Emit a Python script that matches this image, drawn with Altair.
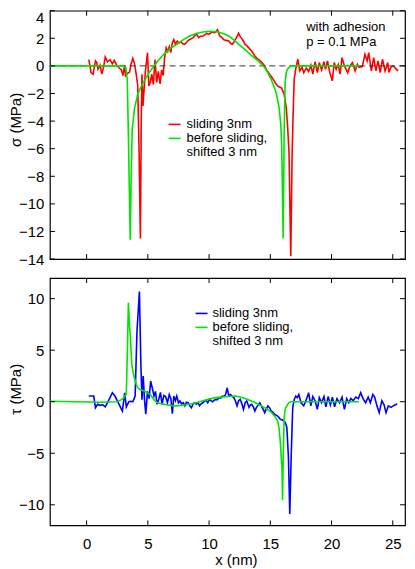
import altair as alt
import pandas as pd

FONT = "Liberation Sans"
RED = "#ff0000"
GREEN = "#00e400"
BLUE = "#0000ff"

# ---------------- data ----------------
red_x = [0.18, 0.37, 0.53, 0.72, 0.82, 0.93, 1.10, 1.24, 1.38, 1.52, 1.70, 1.91, 2.10, 2.26, 2.46, 2.66,
         2.84, 2.97, 3.10, 3.18, 3.32, 3.51, 3.62, 3.77, 3.90, 4.05, 4.17, 4.28, 4.39, 4.46, 4.52, 4.60,
         4.70, 4.80, 4.97, 5.08, 5.20, 5.32, 5.45, 5.58, 5.72, 5.85, 6.00, 6.12, 6.25, 6.37, 6.50, 6.62,
         6.75, 6.87, 7.00, 7.12, 7.25, 7.40, 7.55, 7.70, 7.85, 8.00, 8.15, 8.30, 8.50, 8.70, 8.85, 9.00,
         9.15, 9.30, 9.50, 9.65, 9.80, 10.00, 10.15, 10.30, 10.45, 10.69, 10.87, 11.05, 11.21, 11.40,
         11.61, 11.75, 11.88, 12.05, 12.20, 12.41, 12.55, 12.68, 12.82, 12.94, 13.10, 13.30, 13.48, 13.60,
         13.74, 13.90, 14.05, 14.20, 14.35, 14.54, 14.70, 14.94, 15.10, 15.30, 15.45, 15.60, 15.78, 15.92,
         16.13, 16.30, 16.42, 16.53, 16.67, 16.78, 16.85, 16.95, 17.07, 17.25, 17.41, 17.59, 17.73,
         17.94, 18.13, 18.31, 18.47, 18.66, 18.84, 19.00, 19.19, 19.38, 19.51, 19.67, 19.86, 20.06, 20.22,
         20.38, 20.55, 20.70, 20.86, 21.05, 21.18, 21.32, 21.50, 21.71, 21.93, 22.11, 22.25, 22.51, 22.73,
         22.91, 23.04, 23.25, 23.44, 23.63, 23.79, 23.97, 24.16, 24.37, 24.59, 24.69, 24.85, 25.04, 25.30,
         25.44]
red_sigma = [0.45, -0.5, -0.6, 0.36, 0.25, -0.24, 0.05, -0.6, -0.1, 0.65, 0.3, 0.45, 0.15, 0.4, 0.05, -0.15,
             -0.3, -0.7, 0.05, -0.7, -0.55, -0.45, 0.1, 0.55, 0.2, -0.6, -1.4, -6.0, -12.5, -4.0, -0.6, -2.9,
             -1.6, -0.4, 0.95, -1.45, -1.2, -0.6, -1.35, 0.45, -1.2, -0.4, -1.3, -0.3, -0.7, 0.6, 1.3, 1.05,
             1.4, 0.96, 1.68, 1.9, 1.55, 1.8, 1.65, 1.75, 1.6, 1.56, 1.7, 1.85, 1.95, 2.05, 2.2, 2.28,
             2.05, 2.15, 2.17, 2.25, 2.35, 2.28, 2.4, 2.45, 2.4, 2.62, 2.17, 2.05, 1.9, 1.85,
             1.8, 1.65, 1.56, 1.75, 2.0, 2.36, 2.1, 1.97, 1.75, 1.56, 1.45, 1.25, 1.08, 0.9,
             0.72, 0.55, 0.45, 0.35, 0.2, 0.0, -0.3, -0.6, -0.8, -1.05, -1.3, -1.45, -1.55, -1.6,
             -2.05, -3.0, -4.5, -6.3, -13.8, -6.5, -3.86, -1.0, -0.24, 0.48, -0.36, -0.1, -0.5,
             -0.15, -0.4, 0.05, -0.6, 0.3, -0.48, 0.24, -0.3, 0.3, -0.25, 0.36, -0.48, -1.08, 0.24,
             -0.25, 0.1, -0.6, 0.6, 0.0, -0.24, -0.5, 0.0, 0.24, -0.36, 0.12, -0.1, -0.05, 0.84,
             0.36, 0.96, -0.36, 0.6, -0.36, 0.36, -0.48, 0.48, -0.36, 0.24, -0.48, -0.1, 0.0, -0.25,
             -0.36]

green_sig_x = [-3.0, -1.0, 1.0, 2.5, 2.97, 3.21, 3.32, 3.41, 3.56, 3.64, 3.72, 3.91, 4.17, 4.45, 4.70, 5.10,
               5.50, 5.90, 6.30, 6.80, 7.36, 7.90, 8.42, 8.95, 9.49, 10.02, 10.40, 10.81, 11.20, 11.61,
               12.00, 12.41, 12.80, 13.21, 13.60, 14.00, 14.27, 14.54, 14.80, 15.07, 15.30, 15.47, 15.63,
               15.73, 15.85, 15.92, 15.98, 16.05, 16.13, 16.21, 16.30, 16.40, 16.67, 18.0, 20.0, 22.25]
green_sigma = [0.0, 0.0, 0.0, 0.0, 0.0, -0.15, -1.0, -5.0, -12.6, -8.0, -4.6, -3.1, -2.05, -1.5, -1.1, -0.5,
               0.0, 0.45, 0.84, 1.25, 1.56, 1.9, 2.17, 2.35, 2.46, 2.5, 2.49, 2.44, 2.33, 2.17,
               1.9, 1.56, 1.28, 0.96, 0.66, 0.36, 0.12, -0.12, -0.5, -0.97, -1.5, -1.93, -2.6,
               -3.1, -4.2, -5.5, -8.5, -12.5, -5.0, -1.2, -0.5, -0.24, 0.0, 0.0, 0.0, 0.0]

blue_x = [0.18, 0.58, 0.72, 0.90, 1.10, 1.32, 1.52, 1.70, 1.91, 2.10, 2.31, 2.50, 2.71, 2.92, 3.11, 3.24,
          3.45, 3.61, 3.77, 3.96, 4.11, 4.31, 4.43, 4.52, 4.62, 4.72, 4.83, 4.97, 5.10, 5.23, 5.37, 5.50,
          5.62, 5.75, 5.88, 6.03, 6.16, 6.30, 6.45, 6.60, 6.75, 6.88, 7.00, 7.12, 7.25, 7.36, 7.50, 7.62,
          7.75, 7.89, 8.02, 8.15, 8.29, 8.42, 8.56, 8.70, 8.82, 8.96, 9.10, 9.22, 9.35, 9.49, 9.62, 9.75,
          9.89, 10.02, 10.15, 10.29, 10.42, 10.55, 10.68, 10.81, 10.95, 11.08, 11.22, 11.35, 11.48, 11.60,
          11.75, 11.88, 12.02, 12.15, 12.28, 12.41, 12.54, 12.68, 12.81, 12.95, 13.08, 13.26, 13.38, 13.48,
          13.62, 13.74, 13.85, 13.96, 14.14, 14.32, 14.45, 14.54, 14.68, 14.80, 14.95, 15.07, 15.20, 15.33,
          15.47, 15.60, 15.72, 15.81, 15.95, 16.13, 16.25, 16.35, 16.48, 16.59, 16.71, 16.83, 16.95, 17.07,
          17.20, 17.33, 17.51, 17.73, 17.94, 18.13, 18.31, 18.47, 18.66, 18.84, 19.00, 19.19, 19.38, 19.54,
          19.72, 19.91, 20.07, 20.25, 20.44, 20.65, 20.86, 21.05, 21.24, 21.40, 21.58, 21.77, 21.98, 22.19,
          22.38, 22.57, 22.78, 22.99, 23.17, 23.37, 23.52, 23.71, 23.89, 24.11, 24.29, 24.45, 24.64, 24.85,
          25.04, 25.22, 25.36]
blue_tau = [0.55, 0.55, -0.58, -0.25, -0.35, -0.3, -0.5, -0.1, 0.4, 0.87, 0.55, 0.1, -0.4, -0.9, 0.87, -0.5,
            0.0, 0.05, 0.0, 0.55, 6.8, 10.7, 3.6, 0.2, 2.5, 0.3, -1.2, 1.0, 0.3, 2.0, 1.3, 0.55,
            1.0, -0.25, 0.2, 0.9, -0.25, 0.6, 0.5, -0.1, 0.7, 0.3, -1.15, 0.55, 0.1, 0.55, -0.1, 0.07,
            -0.2, -0.1, -0.4, -0.05, -0.1, -0.4, -0.58, -0.2, -0.1, -0.25, -0.1, -0.4, -0.2, -0.1, 0.05, 0.13,
            -0.1, 0.23, 0.1, 0.0, 0.15, 0.23, 0.2, 0.4, 0.35, 0.55, 0.5, 0.7, 1.35, 0.6,
            0.7, 0.55, 0.4, 0.07, -0.4, 0.1, 0.23, -0.2, -0.74, -0.1, 0.07, -0.55, -0.3, -0.25,
            -0.5, -0.9, -0.6, -0.4, -0.1, -0.55, -0.8, -1.06, -0.7, -0.4, -0.6, -0.9, -1.0, -1.2,
            -1.3, -1.4, -1.55, -1.7, -1.75, -1.87, -2.1, -2.5, -5.4, -10.9, -5.1, -0.58, 0.2, 0.55,
            0.4, 0.7, -0.1, -0.4, 0.2, 0.87, -0.4, 0.5, 0.1, -0.74, 0.4, -0.1, 0.5, -0.5,
            0.5, -0.3, 0.45, -0.5, 0.3, -0.1, 0.45, -0.74, 0.3, -0.1, 0.3, 0.1, 0.45, 0.3,
            0.87, 0.3, -0.1, 0.45, -0.1, 0.7, 0.45, -0.4, -1.06, 0.1, -0.3, -1.06, -0.4, -0.55,
            -0.4, -0.3, -0.2]

green_tau_x = [-3.0, -1.0, 1.0, 2.5, 2.84, 3.05, 3.24, 3.33, 3.41, 3.50, 3.59, 3.69, 3.80, 3.91, 4.05, 4.17,
               4.40, 4.70, 5.20, 5.50, 5.77, 6.10, 6.56, 7.00, 7.36, 7.80, 8.16, 8.60, 8.96, 9.50, 10.00,
               10.55, 11.00, 11.50, 12.15, 12.70, 13.21, 13.70, 14.27, 14.70, 15.07, 15.35, 15.60, 15.72,
               15.81, 15.90, 15.95, 16.00, 16.06, 16.13, 16.22, 16.35, 16.50, 16.67, 18.0, 20.0, 22.25]
green_tau = [0.05, 0.0, -0.05, 0.0, 0.2, 0.4, 0.75, 5.0, 9.6, 7.5, 5.9, 3.6, 2.8, 2.3, 1.7, 1.35,
             1.15, 1.03, 0.7, 0.2, -0.1, -0.2, -0.3, -0.38, -0.4, -0.35, -0.3, -0.2, -0.1, 0.1, 0.25,
             0.4, 0.45, 0.5, 0.55, 0.4, 0.2, -0.05, -0.4, -0.7, -1.0, -1.4, -1.87, -2.6,
             -3.8, -5.5, -6.4, -9.55, -5.0, -1.55, -0.7, -0.4, -0.1, 0.0, 0.0, 0.0, 0.0]

x_ticks = [0, 5, 10, 15, 20, 25]
sigma_ticks = [-14, -12, -10, -8, -6, -4, -2, 0, 2, 4]
tau_ticks = [-10, -5, 0, 5, 10]
legend_labels = ["sliding 3nm", "before sliding,", "shifted 3 nm"]
note_lines = ["with adhesion", "p = 0.1 MPa"]
titles = {"sigma": "σ  (MPa)", "tau": "τ  (MPa)", "x": "x  (nm)"}

# ---------------- layout ----------------
W = 356
H_TOP = 249
H_BOT = 248
TICK = 5
xscale = alt.Scale(domain=[-3, 26], nice=False, zero=False)
sig_scale = alt.Scale(domain=[-14, 4], nice=False, zero=False)
tau_scale = alt.Scale(domain=[-12, 12], nice=False, zero=False)


def label_axis(values, **kw):
    d = dict(values=values, domain=False, grid=False, ticks=False,
             labelFont=FONT, labelFontSize=15, labelColor="black", labelPadding=6)
    d.update(kw)
    return alt.Axis(**d)


def text(s, x, y, size=13, **kw):
    return alt.Chart(pd.DataFrame({"t": [s]})).mark_text(
        font=FONT, fontSize=size, align=kw.pop("align", "left"), baseline="middle", color="black", **kw
    ).encode(x=alt.value(x), y=alt.value(y), text="t:N")


def swatch(color, x1, x2, y):
    return alt.Chart(pd.DataFrame({"c": [color]})).mark_rule(
        color=color, strokeWidth=1.6
    ).encode(x=alt.value(x1), x2=alt.value(x2), y=alt.value(y))


def inner_ticks(yvals, yscale, height):
    """Tick marks drawn inside the frame on all four sides."""
    xdf = pd.DataFrame({"x": x_ticks})
    ydf = pd.DataFrame({"v": yvals})
    rule = dict(color="black", strokeWidth=1)
    xb = alt.Chart(xdf).mark_rule(**rule).encode(
        x=alt.X("x:Q", scale=xscale, axis=None), y=alt.value(height - TICK), y2=alt.value(height))
    xt = alt.Chart(xdf).mark_rule(**rule).encode(
        x=alt.X("x:Q", scale=xscale, axis=None), y=alt.value(0), y2=alt.value(TICK))
    yl = alt.Chart(ydf).mark_rule(**rule).encode(
        y=alt.Y("v:Q", scale=yscale, axis=None), x=alt.value(0), x2=alt.value(TICK))
    yr = alt.Chart(ydf).mark_rule(**rule).encode(
        y=alt.Y("v:Q", scale=yscale, axis=None), x=alt.value(W - TICK), x2=alt.value(W))
    return [xb, xt, yl, yr]


# ---------------- top panel ----------------
df_red = pd.DataFrame({"x": red_x, "v": red_sigma})
df_gs = pd.DataFrame({"x": green_sig_x, "v": green_sigma})
df_zero = pd.DataFrame({"v": [0]})

top_label_baseline = {"condition": {"test": "datum.value == 4", "value": "top"}, "value": "middle"}

red_line = alt.Chart(df_red).mark_line(color=RED, strokeWidth=1.6).encode(
    x=alt.X("x:Q", scale=xscale, axis=None),
    y=alt.Y("v:Q", scale=sig_scale,
            axis=label_axis(sigma_ticks, labelBaseline=top_label_baseline), title=None),
)
green_top = alt.Chart(df_gs).mark_line(color=GREEN, strokeWidth=1.6).encode(
    x=alt.X("x:Q", scale=xscale, axis=None),
    y=alt.Y("v:Q", scale=sig_scale, axis=None),
)
zero_line = alt.Chart(df_zero).mark_rule(color="#333333", strokeDash=[6, 4], strokeWidth=1).encode(
    y=alt.Y("v:Q", scale=sig_scale, axis=None)
)

top = alt.layer(
    red_line, zero_line, green_top,
    *inner_ticks(sigma_ticks, sig_scale, H_TOP),
    swatch(RED, 119, 131, 114), swatch(GREEN, 119, 131, 128),
    text(legend_labels[0], 137, 114), text(legend_labels[1], 137, 128), text(legend_labels[2], 137, 142),
    text(note_lines[0], 257, 16), text(note_lines[1], 257, 31),
    text(titles["sigma"], -34, 109.5, size=15, align="center", angle=270),
).resolve_axis(x="independent", y="independent").properties(width=W, height=H_TOP)

# ---------------- bottom panel ----------------
df_blue = pd.DataFrame({"x": blue_x, "v": blue_tau})
df_gt = pd.DataFrame({"x": green_tau_x, "v": green_tau})

blue_line = alt.Chart(df_blue).mark_line(color=BLUE, strokeWidth=1.6).encode(
    x=alt.X("x:Q", scale=xscale, axis=label_axis(x_ticks, labelPadding=11), title=None),
    y=alt.Y("v:Q", scale=tau_scale, axis=label_axis(tau_ticks), title=None),
)
green_bot = alt.Chart(df_gt).mark_line(color=GREEN, strokeWidth=1.6).encode(
    x=alt.X("x:Q", scale=xscale, axis=None),
    y=alt.Y("v:Q", scale=tau_scale, axis=None),
)

bottom = alt.layer(
    blue_line, green_bot,
    *inner_ticks(tau_ticks, tau_scale, H_BOT),
    swatch(BLUE, 146, 158, 35.5), swatch(GREEN, 146, 158, 49.5),
    text(legend_labels[0], 163, 35.5), text(legend_labels[1], 163, 49.5), text(legend_labels[2], 163, 63.5),
    text(titles["tau"], -34, 111.5, size=15, align="center", angle=270),
    text(titles["x"], 187, H_BOT + 35, size=15, align="center"),
).resolve_axis(x="independent", y="independent").properties(width=W, height=H_BOT)

chart = alt.vconcat(top, bottom, spacing=19, bounds="flush").properties(padding=0).configure(
    font=FONT
).configure_view(
    stroke="black", strokeWidth=1.2
)

chart.save("out.html", embed_options={"renderer": "svg", "actions": False})
